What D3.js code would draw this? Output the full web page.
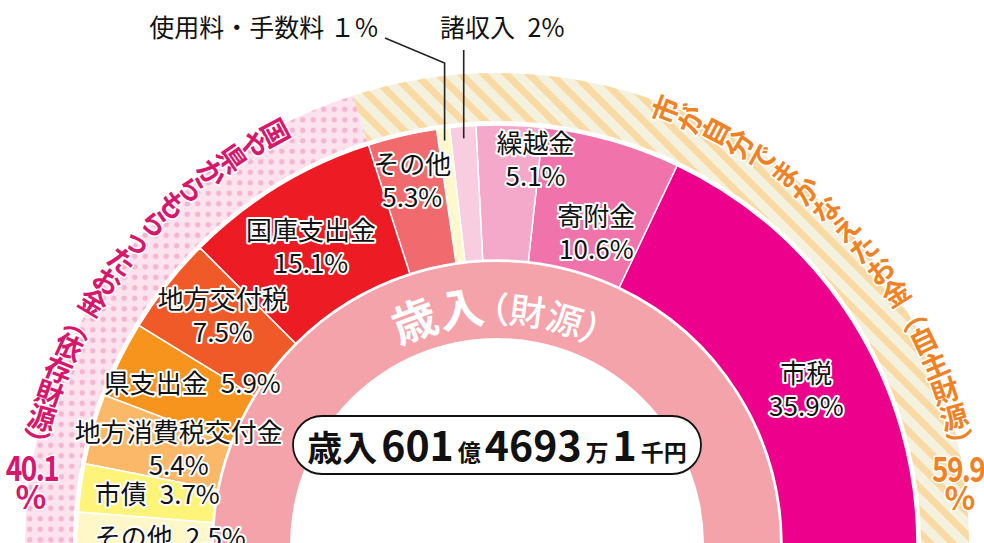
<!DOCTYPE html>
<html>
<head>
<meta charset="utf-8">
<script src="https://cdn.jsdelivr.net/npm/d3@7"></script>
<style>
  body { margin: 0; background: #fff; }
  svg { display: block; font-family: "Noto Sans CJK JP", "Noto Sans", sans-serif; }
</style>
</head>
<body>
<div id="chart"></div>
<script>
// ---- data ----
const categories = ["市税", "寄附金", "繰越金", "諸収入", "使用料・手数料", "その他",
  "国庫支出金", "地方交付税", "県支出金", "地方消費税交付金", "市債", "その他"]
const values = [35.9, 10.6, 5.1, 2, 1, 5.3, 15.1, 7.5, 5.9, 5.4, 3.7, 2.5]
const valueLabels = ["35.9%", "10.6%", "5.1%", "2%", "１%", "5.3%", "15.1%", "7.5%", "5.9%", "5.4%", "3.7%", "2.5%"]

const groupValues = [59.9, 40.1]
const groupLabels = ["59.9", "40.1"]
const groupCaptions = ["市が自分でまかなえたお金︵自主財源︶", "国や県からもらったお金︵依存財源︶"]

const ringTitle = ["歳入", "（財源）"]
const totalParts = ["歳入", "601", "億", "4693", "万", "1", "千円"]

// ---- styles / layout ----
const W = 984, H = 543
const cx = 497, cy = 545
const colors = ["#EC008C", "#F173AC", "#F4A8CA", "#F8CDE0", "#FFF8CC", "#F06A6E",
  "#ED1C24", "#F05A28", "#F7941E", "#FBB868", "#FFF47A", "#FFF7C8"]
// label mode: two lines, one line, or outside with leader
const labelMode = ["two", "two", "two", "out", "out", "two", "two", "two", "one", "two", "one", "one"]
const labelNudge = [[11, 31], [3, 25], [28, -35], [0, 0], [0, 0], [-5, -23],
  [-2, 0], [3, -13], [12, -8], [21, -2], [10, -4], [26, 4]]

const svg = d3.select("#chart").append("svg")
  .attr("width", W)
  .attr("height", H)

const defs = svg.append("defs")

const dots = defs.append("pattern")
  .attr("id", "dots")
  .attr("patternUnits", "userSpaceOnUse")
  .attr("width", 10.5).attr("height", 10.5)
dots.append("rect").attr("width", 10.5).attr("height", 10.5).attr("fill", "#FCE3EE")
dots.append("circle").attr("cx", 5.25).attr("cy", 5.25).attr("r", 2.7).attr("fill", "#F5B5D1")

const stripes = defs.append("pattern")
  .attr("id", "stripes")
  .attr("patternUnits", "userSpaceOnUse")
  .attr("width", 16).attr("height", 16)
  .attr("patternTransform", "rotate(-45)")
stripes.append("rect").attr("width", 16).attr("height", 16).attr("fill", "#F4F1DF")
stripes.append("rect").attr("width", 7).attr("height", 16).attr("fill", "#F9DAA4")

const g = svg.append("g").attr("transform", "translate(" + cx + "," + cy + ")")

// half pie, from the right going over the top to the left
const pie = d3.pie().sort(null).startAngle(Math.PI / 2).endAngle(-Math.PI / 2)
const arcs = pie(values)
const groupArcs = pie(groupValues)

// OUTER BAND (self / dependent)
const bandArc = d3.arc().innerRadius(424).outerRadius(472)
g.selectAll(".band")
  .data(groupArcs)
  .join("path")
  .attr("class", "band")
  .attr("d", bandArc)
  .attr("fill", (d, i) => i === 0 ? "url(#stripes)" : "url(#dots)")

// INNER PINK RING
g.append("path")
  .attr("d", d3.arc().innerRadius(207).outerRadius(283).startAngle(-Math.PI / 2).endAngle(Math.PI / 2))
  .attr("fill", "#F5A3AB")

// SEGMENTS
const segArc = d3.arc().innerRadius(285).outerRadius(420)
g.selectAll(".seg")
  .data(arcs)
  .join("path")
  .attr("class", "seg")
  .attr("d", segArc)
  .attr("fill", (d, i) => colors[i])
  .attr("stroke", "#fff")
  .attr("stroke-width", 1.5)

// SEGMENT LABELS
const labelArc = d3.arc().innerRadius(353).outerRadius(353)
const halo = sel => sel
  .attr("stroke", "#fff")
  .attr("stroke-width", 4)
  .attr("stroke-linejoin", "round")
  .style("paint-order", "stroke")

arcs.forEach((d, i) => {
  const mode = labelMode[i]
  if (mode === "out") return
  const [x, y] = labelArc.centroid(d)
  const lx = x + labelNudge[i][0]
  const ly = y + labelNudge[i][1]
  const t = g.append("text")
    .attr("text-anchor", "middle")
    .attr("dominant-baseline", "central")
    .attr("fill", "#111")
    .style("font-size", "26px")
    .call(halo)
  if (mode === "two") {
    t.append("tspan").attr("x", lx).attr("y", ly - 16).text(categories[i])
    t.append("tspan").attr("x", lx).attr("y", ly + 17).text(valueLabels[i])
  } else {
    t.attr("x", lx).attr("y", ly).text(categories[i] + "\u2002" + valueLabels[i])
  }
})

// OUTSIDE LABELS WITH LEADERS
const leaderArc = d3.arc().innerRadius(408).outerRadius(408)
{
  const [sx, sy] = leaderArc.centroid(arcs[3])
  g.append("path")
    .attr("d", d3.line()([[sx, sy], [sx, 50 - cy]]))
    .attr("stroke", "#222").attr("stroke-width", 1.6).attr("fill", "none")
  g.append("text")
    .attr("x", 440 - cx).attr("y", 26 - cy)
    .attr("dominant-baseline", "central")
    .attr("fill", "#111")
    .style("font-size", "25px")
    .text(categories[3] + "\u2002" + valueLabels[3])
}
{
  const [sx, sy] = leaderArc.centroid(arcs[4])
  g.append("path")
    .attr("d", d3.line()([[sx, sy], [sx, 63 - cy], [385 - cx, 38 - cy]]))
    .attr("stroke", "#222").attr("stroke-width", 1.6).attr("fill", "none")
  g.append("text")
    .attr("x", 378 - cx).attr("y", 26 - cy)
    .attr("text-anchor", "end")
    .attr("dominant-baseline", "central")
    .attr("fill", "#111")
    .style("font-size", "25px")
    .text(categories[4] + " " + valueLabels[4])
}

// CURVED BAND CAPTIONS (vertical writing along the arc)
function caption(chars, a0, a1, r0, r1, color, side) {
  const s = d3.scaleLinear().domain([0, chars.length - 1]).range([a0, a1])
  const rs = d3.scaleLinear().domain([0, chars.length - 1]).range([r0, r1])
  g.append("g").selectAll("text")
    .data(chars)
    .join("text")
    .attr("transform", (c, i) => {
      const a = s(i) * Math.PI / 180
      const r = rs(i)
      const rot = side === "left" ? 90 + s(i) : s(i) - 90
      return "translate(" + (r * Math.sin(a)) + "," + (-r * Math.cos(a)) + ") rotate(" + rot + ")"
    })
    .attr("text-anchor", "middle")
    .attr("dominant-baseline", "central")
    .attr("fill", color)
    .style("font-size", "28px")
    .style("font-weight", 700)
    .call(halo)
    .attr("stroke-width", 3)
    .text(c => c)
}
caption(Array.from(groupCaptions[0]), 21, 77.5, 467, 475, "#F08224", "right")
caption(Array.from(groupCaptions[1]), -28.1, -77.3, 468, 473, "#D8166C", "left")

// GROUP PERCENTAGES
const pct = [
  { label: groupLabels[0], x: 932, y: 467, color: "#F08224", anchor: "start", px: 960 },
  { label: groupLabels[1], x: 32, y: 466, color: "#D8166C", anchor: "middle", px: 31 }
]
pct.forEach(p => {
  svg.append("text")
    .attr("transform", "translate(" + p.x + "," + p.y + ") scale(0.8,1)")
    .attr("text-anchor", p.anchor)
    .attr("dominant-baseline", "central")
    .attr("fill", p.color)
    .style("font-size", "35px")
    .style("font-weight", 700)
    .style("letter-spacing", "-2px")
    .call(halo)
    .attr("stroke-width", 3)
    .text(p.label)
  svg.append("text")
    .attr("x", p.px).attr("y", p.y + 29)
    .attr("text-anchor", "middle")
    .attr("dominant-baseline", "central")
    .attr("fill", p.color)
    .style("font-size", "32px")
    .style("font-weight", 700)
    .call(halo)
    .attr("stroke-width", 3)
    .text("%")
})

// RING TITLE on the pink ring
const titlePath = d3.path()
titlePath.arc(0, 0, 222, Math.PI, 2 * Math.PI)
defs.append("path")
  .attr("id", "titleArc")
  .attr("transform", "translate(" + cx + "," + cy + ")")
  .attr("d", titlePath.toString())
const tt = svg.append("text")
  .attr("fill", "#fff")
  .style("font-feature-settings", "'palt'")
  .append("textPath")
  .attr("href", "#titleArc")
  .attr("startOffset", "50%")
  .attr("text-anchor", "middle")
tt.append("tspan").style("font-size", "45px").style("font-weight", 700).text(ringTitle[0])
tt.append("tspan").style("font-size", "36px").style("font-weight", 500).attr("dx", 4).text(ringTitle[1])

// TOTAL PILL
svg.append("rect")
  .attr("x", cx - 204).attr("y", 416)
  .attr("width", 408).attr("height", 58)
  .attr("rx", 29)
  .attr("fill", "#fff")
  .attr("stroke", "#111")
  .attr("stroke-width", 1.8)
const sizes = [35, 41, 23, 41, 23, 41, 23]
const total = svg.append("text")
  .attr("x", cx).attr("y", 461)
  .attr("text-anchor", "middle")
  .attr("fill", "#111")
  .style("font-weight", 700)
totalParts.forEach((s, i) => {
  total.append("tspan")
    .attr("dx", i === 0 ? 0 : 4)
    .style("font-size", sizes[i] + "px")
    .text(s)
})
</script>
</body>
</html>
